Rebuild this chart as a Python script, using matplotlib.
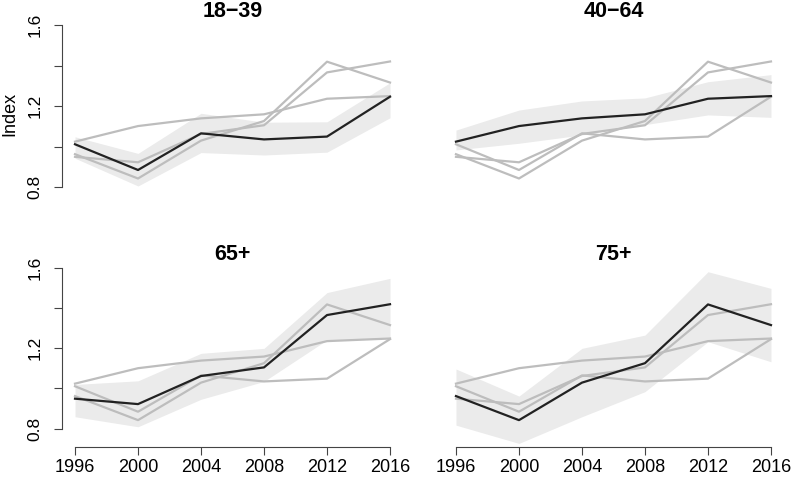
import matplotlib
matplotlib.use("Agg")
import matplotlib.pyplot as plt

plt.rcParams["font.family"] = ["Liberation Sans", "DejaVu Sans"]

# Datos
years = [1996, 2000, 2004, 2008, 2012, 2016]
groups = ["18\u221239", "40\u221264", "65+", "75+"]

idx_18_39 = [1.011, 0.884, 1.065, 1.035, 1.049, 1.246]
idx_40_64 = [1.024, 1.101, 1.139, 1.159, 1.236, 1.249]
idx_65 = [0.949, 0.922, 1.062, 1.105, 1.366, 1.420]
idx_75 = [0.962, 0.842, 1.029, 1.126, 1.419, 1.316]

lo_18_39 = [0.942, 0.805, 0.970, 0.958, 0.972, 1.142]
hi_18_39 = [1.048, 0.966, 1.164, 1.120, 1.122, 1.315]
lo_40_64 = [0.983, 1.016, 1.057, 1.108, 1.156, 1.144]
hi_40_64 = [1.081, 1.180, 1.225, 1.240, 1.320, 1.355]
lo_65 = [0.859, 0.809, 0.946, 1.035, 1.242, 1.248]
hi_65 = [1.020, 1.038, 1.175, 1.200, 1.478, 1.549]
lo_75 = [0.817, 0.726, 0.859, 0.984, 1.233, 1.133]
hi_75 = [1.097, 0.962, 1.200, 1.266, 1.582, 1.499]

series = [idx_18_39, idx_40_64, idx_65, idx_75]
lows = [lo_18_39, lo_40_64, lo_65, lo_75]
highs = [hi_18_39, hi_40_64, hi_65, hi_75]

y_ticks = [0.8, 1.0, 1.2, 1.4, 1.6]
y_labels = ["0.8", "", "1.2", "", "1.6"]

fig = plt.figure(figsize=(7.96, 4.87), dpi=100)
positions = [
    [0.0784, 0.5778, 0.4274, 0.3766],
    [0.557, 0.5778, 0.4274, 0.3766],
    [0.0784, 0.0821, 0.4274, 0.3731],
    [0.557, 0.0821, 0.4274, 0.3731],
]

axis_col = "#444444"

for i, pos in enumerate(positions):
    ax = fig.add_axes(pos)
    ax.fill_between(years, lows[i], highs[i], color="#ebebeb", lw=0, zorder=1)
    for j in range(4):
        if j != i:
            ax.plot(years, series[j], color="#bdbdbd", lw=1.6, zorder=2)
    ax.plot(years, series[i], color="#222222", lw=1.6, zorder=3)

    ax.set_xlim(1995.2, 2016.8)
    ax.set_ylim(0.708, 1.614)
    ax.set_title(groups[i], fontsize=15.5, fontweight="bold", pad=-2)

    for s in ["top", "right"]:
        ax.spines[s].set_visible(False)
    ax.spines["left"].set_bounds(0.8, 1.6)
    ax.spines["bottom"].set_bounds(1996, 2016)
    ax.spines["left"].set_color(axis_col)
    ax.spines["bottom"].set_color(axis_col)

    # Eje Y solo en la columna izquierda
    if i % 2 == 0:
        ax.set_yticks(y_ticks)
        ax.set_yticklabels(y_labels, rotation=90, va="center", ha="center")
        ax.tick_params(axis="y", length=5.8, width=0.8, color=axis_col,
                       pad=14, labelsize=12.5)
    else:
        ax.spines["left"].set_visible(False)
        ax.set_yticks([])

    # Eje X solo en la fila inferior
    if i >= 2:
        ax.set_xticks(years)
        ax.set_xticklabels([str(y) for y in years])
        ax.tick_params(axis="x", length=5.8, width=0.8, color=axis_col,
                       pad=3, labelsize=13)
    else:
        ax.spines["bottom"].set_visible(False)
        ax.set_xticks([])

    if i == 0:
        ax.text(-0.154, 0.5, "Index", rotation=90, transform=ax.transAxes,
                ha="center", va="center", fontsize=13)

fig.savefig("out.png", dpi=100)
